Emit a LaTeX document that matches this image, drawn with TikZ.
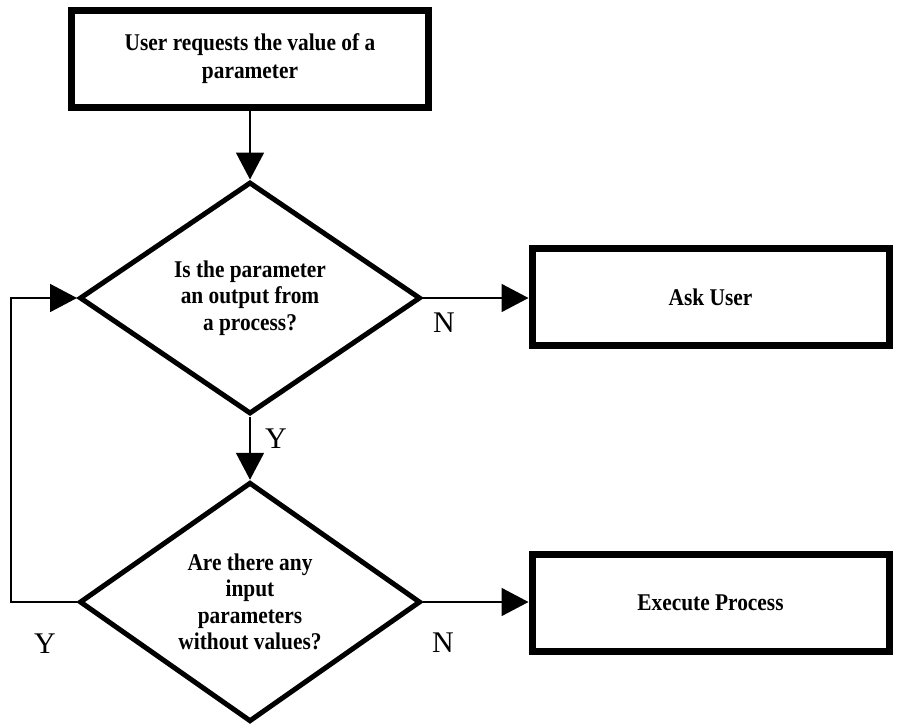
\documentclass[tikz,border=0pt]{standalone}
\usepackage{fontspec}
\setmainfont{Liberation Serif}
% narrow bold face for the text inside boxes and diamonds
\newfontfamily\boxfont{Liberation Serif}[FakeStretch=0.89]
\usetikzlibrary{shapes.geometric,arrows.meta}
\begin{document}
\begin{tikzpicture}[x=1pt,y=-1pt,
  procbox/.style={draw, line width=7pt, minimum width=357pt, minimum height=97pt,
    inner sep=0pt, align=center, font=\boxfont\bfseries\fontsize{24}{28}\selectfont},
  decision/.style={draw, diamond, line width=5pt, minimum width=341pt, minimum height=232pt,
    inner sep=0pt, align=center, font=\boxfont\bfseries\fontsize{24}{26.5}\selectfont},
  flow/.style={line width=1.8pt, -{Triangle[length=27pt,width=28pt]}},
  branch/.style={inner sep=0pt, font=\fontsize{30}{30}\selectfont}]
\useasboundingbox (0,0) rectangle (899,723);

% steps and decisions
\node[procbox] (start) at (250,58.5) {User requests the value of a\\parameter};
\node[decision] (isout) at (250,298) {Is the parameter\\an output from\\a process?};
\node[procbox] (ask) at (710.5,297) {Ask User};
\node[decision] (inputs) at (250,602) {Are there any\\input\\parameters\\without values?};
\node[procbox] (exec) at (710.5,603) {Execute Process};

% connectors
\coordinate (loopx) at (11,0);
\draw[flow] (start.south) -- (isout.north);
\draw[flow] (isout.south) -- (inputs.north);
\draw[flow] (isout.east) -- (isout.east -| ask.west);
\draw[flow] (inputs.east) -- (inputs.east -| exec.west);
\draw[flow] (inputs.west) -- (inputs.west -| loopx) |- (isout.west);

% branch labels
\node[branch] (noask) at (444,323) {N};
\node[branch] (yesin) at (276,439) {Y};
\node[branch] (noexec) at (443,643) {N};
\node[branch] (yesloop) at (45,644) {Y};
\end{tikzpicture}
\end{document}
